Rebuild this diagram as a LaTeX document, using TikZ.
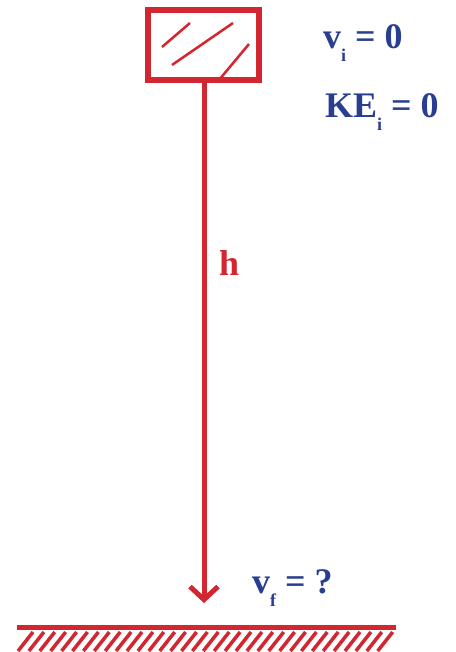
\documentclass[tikz,border=0pt]{standalone}
\usepackage{fontspec}
\setmainfont{Liberation Serif}
\usetikzlibrary{arrows.meta}
\definecolor{dred}{RGB}{210,38,48}
\definecolor{dblue}{RGB}{42,62,145}
\newcommand\subtxt[1]{\raisebox{-13pt}{\fontsize{18}{18}\selectfont\bfseries #1}}
\tikzset{
  redline/.style={draw=dred, line width=5pt},
  hatchline/.style={draw=dred, line width=3.5pt},
  thinline/.style={draw=dred, line width=2.5pt},
  bluetext/.style={text=dblue, font=\fontsize{36}{36}\selectfont\bfseries, anchor=base west, inner sep=0pt},
  redtext/.style={text=dred, font=\fontsize{36}{36}\selectfont\bfseries, anchor=base west, inner sep=0pt},
  blockbox/.style={draw=dred, line width=6pt, minimum width=111pt, minimum height=70pt, inner sep=0pt}
}
\begin{document}
\begin{tikzpicture}[x=1pt,y=-1pt]
\useasboundingbox (0,0) rectangle (455,652);
\node[blockbox] (box) at (203,45) {};
\draw[thinline] (162,47) -- (190,23);
\draw[thinline] (172,65) -- (233,23);
\draw[thinline] (219,80) -- (249,44);
\coordinate (tip) at (204,603);
\draw[redline, -{Straight Barb[length=13pt,width=28pt]}] (box.south -| tip) -- (tip);
\coordinate (gl) at (17,627);
\coordinate (gr) at (396,627);
\draw[redline] (gl) -- (gr);
\foreach \i in {0,...,33} {
  \draw[hatchline] (18+\i*10.9,651) -- (33+\i*10.9,632);
}
\node[bluetext] (vi) at (323,49) {v\subtxt{i} = 0};
\node[bluetext] (kei) at (325,118) {KE\subtxt{i} = 0};
\node[redtext] (h) at (219,275) {h};
\node[bluetext] (vf) at (252,593) {v\subtxt{f} = ?};
\end{tikzpicture}
\end{document}
